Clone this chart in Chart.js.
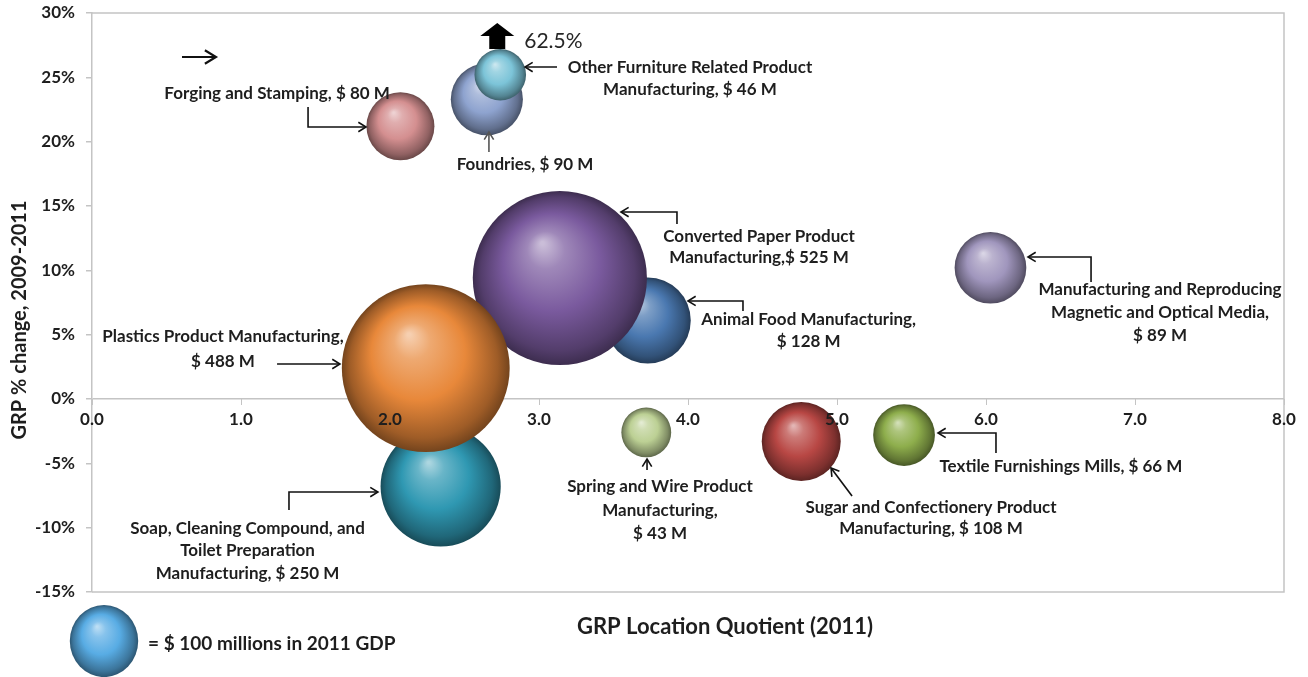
<!DOCTYPE html>
<html>
<head>
<meta charset="utf-8">
<title>GRP Location Quotient vs GRP change</title>
<script src="https://cdn.jsdelivr.net/npm/chart.js@4.4.1/dist/chart.umd.min.js"></script>
<style>
    html, body { margin: 0; padding: 0; background: #ffffff; }
    #wrap { width: 1308px; height: 677px; }
</style>
</head>
<body>
<div id="wrap"><canvas id="bubble-chart" width="1308" height="677"></canvas></div>
<script>
// Industries, drawn back to front
const INDUSTRIES = [
    'Animal Food Manufacturing',
    'Converted Paper Product Manufacturing',
    'Soap, Cleaning Compound, and Toilet Preparation Manufacturing',
    'Plastics Product Manufacturing',
    'Foundries',
    'Other Furniture Related Product Manufacturing',
    'Forging and Stamping',
    'Spring and Wire Product Manufacturing',
    'Sugar and Confectionery Product Manufacturing',
    'Textile Furnishings Mills',
    'Manufacturing and Reproducing Magnetic and Optical Media'
];
const LOCATION_QUOTIENT = [3.73, 3.14, 2.34, 2.24, 2.65, 2.74, 2.07, 3.72, 4.76, 5.45, 6.03];
const GRP_CHANGE = [6.1, 9.4, -6.8, 2.4, 23.3, 62.5, 21.2, -2.6, -3.3, -2.8, 10.2];
const GDP_2011 = [128, 525, 250, 488, 90, 46, 80, 43, 108, 66, 89];
const BUBBLE_COLORS = ['#4a78b0', '#7a5a9e', '#2f98b2', '#e8883a', '#8ea3cf', '#7cc4d8',
    '#d48f90', '#bcd094', '#b84744', '#8eae4c', '#a096bd'];

const X_TICKS = [0, 1, 2, 3, 4, 5, 6, 7, 8];
const Y_TICKS = [-15, -10, -5, 0, 5, 10, 15, 20, 25, 30];
const LEGEND_GDP = 100;

// values above the axis are parked near the top and flagged with an arrow
const Y_MAX = 30;
const OFF_SCALE_Y = 25.2;

// bubble area proportional to GDP
const BUBBLE_SCALE = 3.8;
const radiusFor = v => BUBBLE_SCALE * Math.sqrt(v);

const FONT = "Lato, 'Open Sans', sans-serif";
const TEXT = '#1e1e1e';
const AXIS_GREY = '#c4c4c4';

// Label placement (axis units) for each industry, by index
const LABELS = [
    { i: 0, at: [4.81, 6.14], step: 1.71, lines: v => ['Animal Food Manufacturing,', `$ ${v} M`],
      arrow: [[4.369, 6.84], [4.369, 7.62], [4.0, 7.62]] },
    { i: 1, at: [4.477, 12.59], step: 1.63, lines: v => ['Converted Paper Product', `Manufacturing,$ ${v} M`],
      arrow: [[3.926, 13.6], [3.926, 14.53], [3.55, 14.53]] },
    { i: 2, at: [1.044, -10.03], step: 1.75, lines: v => ['Soap, Cleaning Compound, and', 'Toilet Preparation', `Manufacturing, $ ${v} M`],
      arrow: [[1.322, -8.63], [1.322, -7.23], [1.919, -7.23]] },
    { i: 3, at: [0.879, 4.82], step: 1.94, lines: v => ['Plastics Product Manufacturing,', `$ ${v} M`],
      arrow: [[1.242, 2.72], [1.664, 2.72]] },
    { i: 4, at: [2.906, 18.19], step: 0, lines: v => [`Foundries, $ ${v} M`],
      arrow: [[2.664, 19.2], [2.664, 20.75]], arrowColor: '#555555' },
    { i: 5, at: [4.013, 25.8], step: 1.71, lines: v => ['Other Furniture Related Product', `Manufacturing, $ ${v} M`],
      arrow: [[3.121, 25.8], [2.906, 25.8]] },
    { i: 6, at: [1.242, 23.78], step: 0, lines: v => [`Forging and Stamping, $ ${v} M`],
      arrow: [[1.45, 22.69], [1.45, 21.14], [1.839, 21.14]] },
    { i: 7, at: [3.812, -6.84], step: 1.79, lines: v => ['Spring and Wire Product', 'Manufacturing,', `$ ${v} M`],
      arrow: [[3.725, -5.52], [3.725, -4.66]] },
    { i: 8, at: [5.631, -8.47], step: 1.63, lines: v => ['Sugar and Confectionery Product', `Manufacturing, $ ${v} M`],
      arrow: [[5.101, -7.54], [4.96, -5.36]] },
    { i: 9, at: [6.503, -5.28], step: 0, lines: v => [`Textile Furnishings Mills, $ ${v} M`],
      arrow: [[6.067, -4.2], [6.067, -2.64], [5.678, -2.64]] },
    { i: 10, at: [7.168, 8.5], step: 1.79, lines: v => ['Manufacturing and Reproducing', 'Magnetic and Optical Media,', `$ ${v} M`],
      arrow: [[6.705, 9.09], [6.705, 11.04], [6.282, 11.04]] }
];

// --- colour helpers ---
function hexToRgb(hex) {
    const n = parseInt(hex.slice(1), 16);
    return [(n >> 16) & 255, (n >> 8) & 255, n & 255];
}

// amt > 0 mixes towards white, amt < 0 towards black
function shade(hex, amt) {
    const rgb = hexToRgb(hex).map(c => {
        const v = amt >= 0 ? c + (255 - c) * amt : c * (1 + amt);
        return Math.round(Math.max(0, Math.min(255, v)));
    });
    return `rgb(${rgb[0]},${rgb[1]},${rgb[2]})`;
}

// Glossy sphere look: highlight up-left, darker rim
function sphereGradient(ctx, x, y, r, hex) {
    const g = ctx.createRadialGradient(x - r * 0.2, y - r * 0.4, r * 0.02, x, y, r);
    g.addColorStop(0, shade(hex, 0.6));
    g.addColorStop(0.2, shade(hex, 0.28));
    g.addColorStop(0.55, hex);
    g.addColorStop(0.88, shade(hex, -0.32));
    g.addColorStop(1, shade(hex, -0.5));
    return g;
}

function bubbleFill(c) {
    const hex = BUBBLE_COLORS[c.dataIndex] || BUBBLE_COLORS[0];
    if (c.type !== 'data' || !c.raw) return hex;
    const chart = c.chart;
    const x = chart.scales.x.getPixelForValue(c.raw.x);
    const y = chart.scales.y.getPixelForValue(c.raw.y);
    // scales are not laid out on the very first pass
    if (!isFinite(x) || !isFinite(y)) return hex;
    return sphereGradient(chart.ctx, x, y, c.raw.r, hex);
}

// --- drawing helpers ---
function drawArrow(ctx, pts, color, width, headLen) {
    ctx.save();
    ctx.strokeStyle = color || '#111111';
    ctx.lineWidth = width || 1.6;
    ctx.beginPath();
    ctx.moveTo(pts[0][0], pts[0][1]);
    for (let k = 1; k < pts.length; k++) ctx.lineTo(pts[k][0], pts[k][1]);
    ctx.stroke();
    const a = pts[pts.length - 2];
    const b = pts[pts.length - 1];
    const ang = Math.atan2(b[1] - a[1], b[0] - a[0]);
    const len = headLen || 9;
    ctx.beginPath();
    ctx.moveTo(b[0] - len * Math.cos(ang - 0.55), b[1] - len * Math.sin(ang - 0.55));
    ctx.lineTo(b[0], b[1]);
    ctx.lineTo(b[0] - len * Math.cos(ang + 0.55), b[1] - len * Math.sin(ang + 0.55));
    ctx.stroke();
    ctx.restore();
}

function drawBlockArrowUp(ctx, cx, bottom, top) {
    const shaft = 8, head = 17, headH = 13;
    ctx.save();
    ctx.fillStyle = '#000000';
    ctx.beginPath();
    ctx.moveTo(cx - shaft, bottom);
    ctx.lineTo(cx - shaft, top + headH);
    ctx.lineTo(cx - head, top + headH);
    ctx.lineTo(cx, top);
    ctx.lineTo(cx + head, top + headH);
    ctx.lineTo(cx + shaft, top + headH);
    ctx.lineTo(cx + shaft, bottom);
    ctx.closePath();
    ctx.fill();
    ctx.restore();
}

// Frame around the plot, under the bubbles
const framePlugin = {
    id: 'frame',
    beforeDatasetsDraw(chart) {
        const { ctx, chartArea: a } = chart;
        ctx.save();
        ctx.strokeStyle = AXIS_GREY;
        ctx.lineWidth = 1.5;
        ctx.beginPath();
        ctx.moveTo(a.left, a.top);
        ctx.lineTo(a.right, a.top);
        ctx.lineTo(a.right, a.bottom);
        ctx.lineTo(a.left, a.bottom);
        ctx.stroke();
        ctx.restore();
    }
};

// Callout labels, arrows, titles and the size key
const annotationPlugin = {
    id: 'callouts',
    afterDraw(chart) {
        const { ctx, scales } = chart;
        const px = v => scales.x.getPixelForValue(v);
        const py = v => scales.y.getPixelForValue(v);

        ctx.save();
        ctx.textAlign = 'center';
        ctx.textBaseline = 'middle';
        ctx.fillStyle = TEXT;
        ctx.font = `bold 17px ${FONT}`;

        LABELS.forEach(lab => {
            const lines = lab.lines(GDP_2011[lab.i]);
            lines.forEach((line, k) => {
                ctx.fillText(line, px(lab.at[0]), py(lab.at[1] - k * lab.step));
            });
            drawArrow(ctx, lab.arrow.map(p => [px(p[0]), py(p[1])]), lab.arrowColor);
        });

        // off-scale marker for values above the axis maximum
        GRP_CHANGE.forEach((v, i) => {
            if (v <= Y_MAX) return;
            const cx = px(LOCATION_QUOTIENT[i]) - 3;
            const top = py(OFF_SCALE_Y) - radiusFor(GDP_2011[i]);
            drawBlockArrowUp(ctx, cx, top, top - 26);
            ctx.textAlign = 'left';
            ctx.font = `21px ${FONT}`;
            ctx.fillStyle = '#262626';
            ctx.fillText(`${v}%`, cx + 27, top - 8);
        });

        // lone arrow in the upper left
        drawArrow(ctx, [[px(0.604), py(26.58)], [px(0.832), py(26.58)]], '#111111', 2.2, 13);

        // axis titles
        ctx.fillStyle = TEXT;
        ctx.textAlign = 'center';
        ctx.font = `bold 22px ${FONT}`;
        ctx.fillText('GRP Location Quotient (2011)', 725, 627);
        ctx.save();
        ctx.translate(20, 320);
        ctx.rotate(-Math.PI / 2);
        ctx.font = `bold 20px ${FONT}`;
        ctx.fillText('GRP % change, 2009-2011', 0, 0);
        ctx.restore();

        // bubble size key
        const r = radiusFor(LEGEND_GDP);
        const kx = 104, ky = 641;
        ctx.save();
        ctx.translate(kx, ky);
        ctx.scale(0.9, 0.95);
        ctx.fillStyle = sphereGradient(ctx, 0, 0, r, '#58ace4');
        ctx.beginPath();
        ctx.arc(0, 0, r, 0, Math.PI * 2);
        ctx.fill();
        ctx.restore();
        ctx.textAlign = 'left';
        ctx.font = `bold 19px ${FONT}`;
        ctx.fillText(`= $ ${LEGEND_GDP} millions in 2011 GDP`, 148, 644);
        ctx.restore();
    }
};

function buildPoints() {
    return INDUSTRIES.map((name, i) => ({
        x: LOCATION_QUOTIENT[i],
        y: Math.min(GRP_CHANGE[i], OFF_SCALE_Y),
        r: radiusFor(GDP_2011[i])
    }));
}

function renderChart() {
    const ctx = document.getElementById('bubble-chart').getContext('2d');

    const chart = new Chart(ctx, {
        type: 'bubble',
        data: {
            datasets: [{
                label: 'GDP 2011 ($M)',
                data: buildPoints(),
                backgroundColor: bubbleFill,
                borderWidth: 0,
                clip: false
            }]
        },
        options: {
            responsive: false,
            animation: false,
            events: [],
            layout: {
                autoPadding: false,
                padding: { left: 0, top: 13, right: 24, bottom: 85 }
            },
            plugins: {
                legend: { display: false },
                tooltip: { enabled: false }
            },
            scales: {
                x: {
                    type: 'linear',
                    min: 0,
                    max: 8,
                    position: { y: 0 },
                    afterBuildTicks: s => { s.ticks = X_TICKS.map(v => ({ value: v })); },
                    afterFit: s => { s.paddingLeft = 0; s.paddingRight = 0; },
                    ticks: {
                        callback: v => v.toFixed(1),
                        color: TEXT,
                        font: { family: FONT, size: 17, weight: 'bold' },
                        padding: 4,
                        maxRotation: 0,
                        z: 1
                    },
                    grid: { drawOnChartArea: false, tickLength: 6, color: AXIS_GREY },
                    border: { display: false }
                },
                y: {
                    type: 'linear',
                    min: -15,
                    max: Y_MAX,
                    afterBuildTicks: s => { s.ticks = Y_TICKS.map(v => ({ value: v })); },
                    // fixed gutter for the tick labels, no extra room above/below
                    afterFit: s => { s.width = 92; s.paddingTop = 0; s.paddingBottom = 0; },
                    ticks: {
                        callback: v => v + '%',
                        color: TEXT,
                        font: { family: FONT, size: 17, weight: 'bold' },
                        padding: 11
                    },
                    grid: {
                        color: c => (c.tick && c.tick.value === 0 ? AXIS_GREY : 'rgba(0,0,0,0)'),
                        lineWidth: 1.5,
                        tickColor: AXIS_GREY,
                        tickLength: 6
                    },
                    border: { color: AXIS_GREY, width: 1.5 }
                }
            }
        },
        plugins: [framePlugin, annotationPlugin]
    });

    // second pass so the gradients see laid-out scales
    chart.update();
}

document.addEventListener('DOMContentLoaded', renderChart);
</script>
</body>
</html>
